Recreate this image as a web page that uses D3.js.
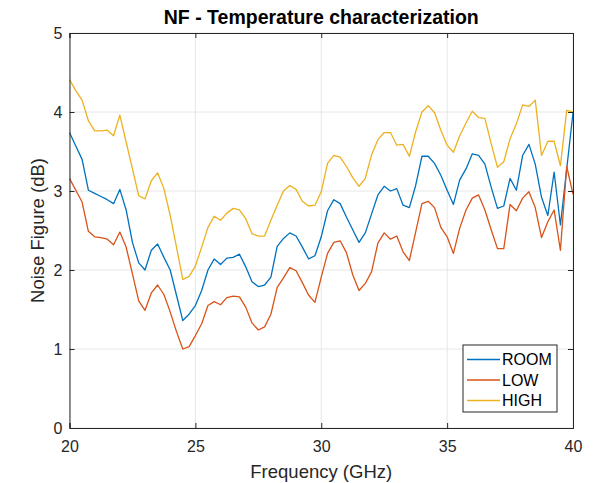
<!DOCTYPE html>
<html>
<head>
<meta charset="utf-8">
<title>NF - Temperature characterization</title>
<script src="https://d3js.org/d3.v7.min.js"></script>
<style>
  body { margin: 0; background: #fff; }
  text { font-family: "Liberation Sans", Arial, sans-serif; fill: #262626; }
</style>
</head>
<body>
<div id="chart"></div>
<script>

// frequency axis: 20 to 40 GHz in 0.25 GHz steps (81 points)
var freqStart = 20, freqStep = 0.25;

var roomNF = [3.74, 3.57, 3.40, 3.01, 2.97, 2.93, 2.89, 2.84, 3.02, 2.76,
  2.35, 2.09, 2.00, 2.25, 2.33, 2.16, 2.00, 1.68, 1.36, 1.44,
  1.55, 1.74, 2.00, 2.14, 2.07, 2.15, 2.16, 2.20, 2.04, 1.85,
  1.79, 1.81, 1.91, 2.30, 2.40, 2.47, 2.43, 2.29, 2.14, 2.18,
  2.42, 2.75, 2.89, 2.84, 2.67, 2.51, 2.35, 2.47, 2.71, 2.95,
  3.06, 3.00, 3.03, 2.82, 2.79, 3.07, 3.44, 3.44, 3.35, 3.20,
  3.01, 2.83, 3.14, 3.28, 3.47, 3.45, 3.34, 3.05, 2.78, 2.81,
  3.16, 3.01, 3.45, 3.59, 3.34, 2.92, 2.69, 3.24, 2.57, 3.28,
  3.99];

var lowNF = [3.16, 3.01, 2.86, 2.49, 2.42, 2.41, 2.39, 2.32, 2.48, 2.29,
  1.95, 1.61, 1.49, 1.71, 1.81, 1.69, 1.47, 1.22, 1.00, 1.03,
  1.17, 1.32, 1.55, 1.60, 1.56, 1.65, 1.67, 1.66, 1.53, 1.33,
  1.24, 1.28, 1.44, 1.78, 1.90, 2.03, 1.99, 1.84, 1.68, 1.59,
  1.91, 2.21, 2.35, 2.37, 2.22, 1.94, 1.74, 1.83, 1.98, 2.34,
  2.47, 2.39, 2.43, 2.23, 2.12, 2.48, 2.84, 2.87, 2.79, 2.54,
  2.42, 2.21, 2.53, 2.76, 2.91, 2.95, 2.76, 2.51, 2.27, 2.27,
  2.83, 2.75, 2.91, 2.99, 2.79, 2.41, 2.61, 2.76, 2.25, 3.31,
  2.96];

var highNF = [4.41, 4.27, 4.15, 3.89, 3.76, 3.76, 3.77, 3.70, 3.96, 3.62,
  3.28, 2.94, 2.90, 3.13, 3.23, 3.03, 2.69, 2.29, 1.88, 1.92,
  2.05, 2.29, 2.54, 2.68, 2.63, 2.72, 2.78, 2.76, 2.65, 2.46,
  2.43, 2.43, 2.63, 2.82, 3.00, 3.07, 3.02, 2.87, 2.81, 2.82,
  2.99, 3.35, 3.45, 3.43, 3.31, 3.17, 3.06, 3.16, 3.46, 3.65,
  3.74, 3.74, 3.58, 3.59, 3.44, 3.75, 4.00, 4.08, 3.99, 3.77,
  3.58, 3.49, 3.70, 3.86, 4.01, 3.93, 3.92, 3.60, 3.30, 3.37,
  3.66, 3.85, 4.09, 4.07, 4.15, 3.45, 3.63, 3.63, 3.32, 4.02,
  4.00];

var seriesNames = ["ROOM", "LOW", "HIGH"];
var seriesColors = ["#0072BD", "#D95319", "#EDB120"];
var xTicks = [20, 25, 30, 35, 40];
var yTicks = [0, 1, 2, 3, 4, 5];

var width = 602, height = 483;
var margin = {top: 33, right: 29, bottom: 55, left: 69.5};
var w = width - margin.left - margin.right,
    h = height - margin.top - margin.bottom;

var svg = d3.select("#chart").append("svg")
  .attr("width", width)
  .attr("height", height);

var g = svg.append("g")
  .attr("transform", "translate(" + margin.left + "," + margin.top + ")");

var x = d3.scaleLinear().domain([20, 40]).range([0, w]);
var y = d3.scaleLinear().domain([0, 5]).range([h, 0]);

// grid
g.append("g").selectAll("line").data(xTicks).enter().append("line")
  .attr("x1", d => x(d)).attr("x2", d => x(d))
  .attr("y1", 0).attr("y2", h)
  .attr("stroke", "#e6e6e6").attr("stroke-width", 1);
g.append("g").selectAll("line").data(yTicks).enter().append("line")
  .attr("y1", d => y(d)).attr("y2", d => y(d))
  .attr("x1", 0).attr("x2", w)
  .attr("stroke", "#e6e6e6").attr("stroke-width", 1);

// lines
var allSeries = [roomNF, lowNF, highNF];
var line = d3.line()
  .x((d, i) => x(freqStart + i * freqStep))
  .y(d => y(d));

g.append("g").selectAll("path").data(allSeries).enter().append("path")
  .attr("d", line)
  .attr("fill", "none")
  .attr("stroke", (d, i) => seriesColors[i])
  .attr("stroke-width", 1.3)
  .attr("stroke-linejoin", "round");

// axes (inward ticks, box)
var axisColor = "#262626";
var xAxis = g.append("g").attr("transform", "translate(0," + h + ")")
  .call(d3.axisBottom(x).tickValues(xTicks).tickSize(-5).tickPadding(13));
var xTop = g.append("g")
  .call(d3.axisTop(x).tickValues(xTicks).tickSize(-5).tickFormat(""));
var yAxis = g.append("g")
  .call(d3.axisLeft(y).tickValues(yTicks).tickSize(-5).tickPadding(7)
    .tickFormat(d3.format("d")));
var yRight = g.append("g").attr("transform", "translate(" + w + ",0)")
  .call(d3.axisRight(y).tickValues(yTicks).tickSize(-5).tickFormat(""));

[xAxis, xTop, yAxis, yRight].forEach(function(a) {
  a.select(".domain").attr("stroke", axisColor).attr("stroke-width", 1);
  a.selectAll(".tick line").attr("stroke", axisColor);
  a.selectAll(".tick text").attr("fill", axisColor)
    .style("font-family", "'Liberation Sans', Arial, sans-serif")
    .style("font-size", "16px");
});

// title and labels
svg.append("text")
  .attr("x", margin.left + w / 2).attr("y", 24)
  .attr("text-anchor", "middle")
  .style("font-size", "19.5px").style("font-weight", "bold")
  .style("fill", "#000")
  .text("NF - Temperature characterization");

svg.append("text")
  .attr("x", margin.left + w / 2).attr("y", 478)
  .attr("text-anchor", "middle")
  .style("font-size", "18.5px")
  .text("Frequency (GHz)");

svg.append("text")
  .attr("transform", "translate(44," + (margin.top + h / 2) + ") rotate(-90)")
  .attr("text-anchor", "middle")
  .style("font-size", "18.5px")
  .text("Noise Figure (dB)");

// legend
var legend = svg.append("g").attr("transform", "translate(463,345)");
legend.append("rect")
  .attr("width", 94).attr("height", 67)
  .attr("fill", "#fff").attr("stroke", "#262626").attr("stroke-width", 1);
var items = legend.selectAll("g.item").data(seriesNames).enter().append("g")
  .attr("class", "item")
  .attr("transform", (d, i) => "translate(0," + (14.5 + i * 20.5) + ")");
items.append("line")
  .attr("x1", 4).attr("x2", 37)
  .attr("stroke", (d, i) => seriesColors[i]).attr("stroke-width", 1.4);
items.append("text")
  .attr("x", 39).attr("dy", "0.36em")
  .style("font-size", "16px")
  .style("fill", "#000")
  .text(d => d);

</script>
</body>
</html>
